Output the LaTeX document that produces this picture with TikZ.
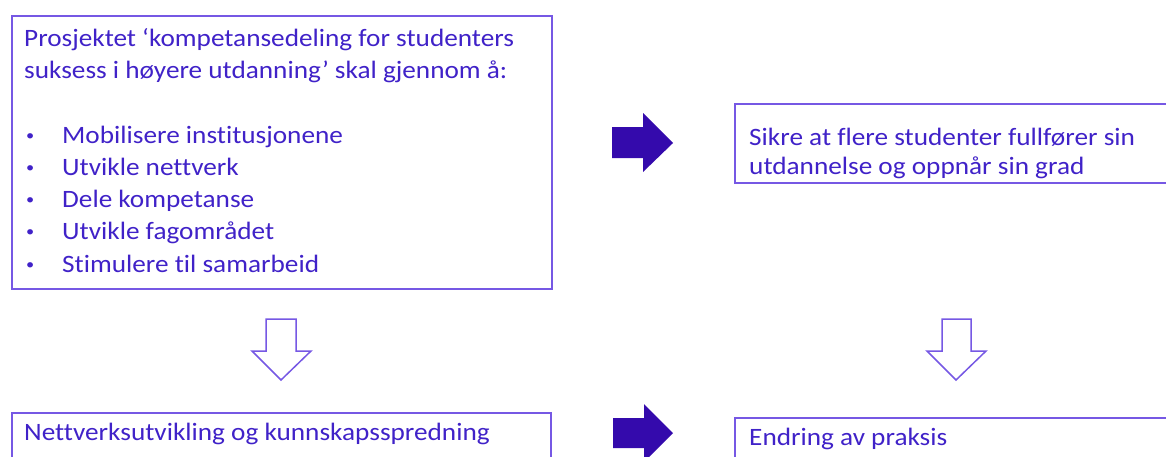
\documentclass[tikz,border=0pt]{standalone}
\usepackage{fontspec}
\setmainfont{Carlito}[Ligatures=NoCommon,FakeStretch=1.09]
\definecolor{txt}{RGB}{64,34,200}
\definecolor{edge}{RGB}{118,88,228}
\definecolor{arrowfill}{RGB}{52,10,172}
\newcommand{\smallbullet}{\raisebox{3pt}{\fontsize{15}{15}\selectfont •}}
\begin{document}
\begin{tikzpicture}[x=1pt,y=-1pt,
  box/.style={draw=edge,line width=1.6pt,anchor=north west,inner sep=0pt},
  txtline/.style={anchor=base west,inner sep=0pt,text=txt,font=\fontsize{25}{30}\selectfont},
  blockarrow/.style={fill=arrowfill,draw=none},
  hollowarrow/.style={draw=edge,line width=1.5pt,fill=white,line join=miter}]
\useasboundingbox (0,0) rectangle (1166,456);
\clip (0,0) rectangle (1166,456);
% boxes
\node[box,minimum width=540pt,minimum height=273pt] (main) at (11,15) {};
\node[box,minimum width=440pt,minimum height=79pt] (goal) at (734,103) {};
\node[box,minimum width=539pt,minimum height=80pt] (net) at (11,412) {};
\node[box,minimum width=440pt,minimum height=80pt] (prac) at (734,417) {};
% main box text
\node[txtline] (l1) at (24,46) {Prosjektet ‘kompetansedeling for studenters};
\node[txtline] (l2) at (24,78) {suksess i høyere utdanning’ skal gjennom å:};
\foreach \t [count=\i] in {Mobilisere institusjonene,Utvikle nettverk,Dele kompetanse,Utvikle fagområdet,Stimulere til samarbeid}{
  \node[txtline] (b\i) at (26,{143+32.3*(\i-1)}) {\smallbullet};
  \node[txtline] (it\i) at (62,{143+32.3*(\i-1)}) {\t};
}
% other texts
\node[txtline] (g1) at (749,145) {Sikre at flere studenter fullfører sin};
\node[txtline] (g2) at (749,174) {utdannelse og oppnår sin grad};
\node[txtline] (n1) at (24,440) {Nettverksutvikling og kunnskapsspredning};
\node[txtline] (p1) at (749,445) {Endring av praksis};
% filled arrows
\fill[blockarrow] (612,127) -- (643,127) -- (643,113) -- (673,143) -- (643,172) -- (643,158) -- (612,158) -- cycle;
\fill[blockarrow] (613,418) -- (644,418) -- (644,404) -- (673,433) -- (644,462) -- (644,448) -- (613,448) -- cycle;
% hollow arrows
\draw[hollowarrow] (266,319) -- (296,319) -- (296,351) -- (311,351) -- (281,380) -- (252,351) -- (266,351) -- cycle;
\draw[hollowarrow] (942,319) -- (971,319) -- (971,351) -- (986,351) -- (956,380) -- (927,351) -- (942,351) -- cycle;
\end{tikzpicture}
\end{document}
